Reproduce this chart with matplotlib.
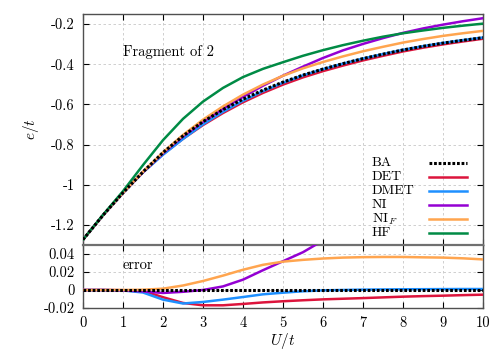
import numpy as np
import matplotlib
matplotlib.use('Agg')
import matplotlib.pyplot as plt
from matplotlib.ticker import FuncFormatter

plt.rcParams['font.family'] = ['cmr10', 'DejaVu Serif']
plt.rcParams['mathtext.fontset'] = 'cm'
plt.rcParams['axes.unicode_minus'] = False
plt.rcParams['axes.formatter.use_mathtext'] = True

# U/t grid
u = [0, 0.5, 1, 1.5, 2, 2.5, 3, 3.5, 4, 4.5, 5, 5.5, 6, 6.5, 7, 7.5, 8, 8.5, 9, 9.5, 10]

# Bethe ansatz energy per site
ba = [-1.2732, -1.152, -1.040, -0.936, -0.840, -0.757, -0.686, -0.626, -0.574, -0.529,
      -0.489, -0.454, -0.424, -0.397, -0.372, -0.350, -0.329, -0.311, -0.295, -0.281, -0.268]

# errors (method - BA)
err_det = [0, 0, -0.0002, -0.001, -0.008, -0.0144, -0.017, -0.017, -0.0155, -0.0138, -0.0125,
           -0.0114, -0.0104, -0.0097, -0.009, -0.0082, -0.0074, -0.0068, -0.0063, -0.0057, -0.0052]
err_dmet = [0, 0, -0.0005, -0.0028, -0.0107, -0.015, -0.0133, -0.0107, -0.0078, -0.0048, -0.003,
            -0.0014, -0.0004, 0.0, 0.0004, 0.0006, 0.0008, 0.0009, 0.001, 0.0011, 0.0011]
err_ni = [0, 0, -0.0005, -0.0015, -0.0033, -0.002, 0.0, 0.004, 0.0115, 0.022, 0.032,
          0.042, 0.055, 0.066, 0.073, 0.080, 0.085, 0.089, 0.092, 0.095, 0.097]
err_nif = [0, 0, 0, 0.0003, 0.0015, 0.005, 0.010, 0.016, 0.0225, 0.028, 0.0315,
           0.0335, 0.035, 0.036, 0.0365, 0.0367, 0.0367, 0.0363, 0.036, 0.0352, 0.034]

# Hartree-Fock energy (upper panel only)
hf = [-1.2732, -1.150, -1.032, -0.902, -0.778, -0.672, -0.586, -0.518, -0.464, -0.423,
      -0.390, -0.358, -0.330, -0.305, -0.283, -0.263, -0.246, -0.232, -0.219, -0.208, -0.198]

labels = ['BA', 'DET', 'DMET', 'NI', r'NI$_F$', 'HF']
colors = ['black', '#dc143c', '#1e90ff', '#9400d3', '#ffa54f', '#008b45']

u = np.array(u)
ba = np.array(ba)
errs = [np.array(err_det), np.array(err_dmet), np.array(err_ni), np.array(err_nif)]

fig = plt.figure(figsize=(5, 3.5), dpi=100)
ax1 = fig.add_axes([0.166, 0.30, 0.80, 0.66])
ax2 = fig.add_axes([0.166, 0.12, 0.80, 0.18], sharex=ax1)

lw = 1.8
dot = (0, (0.9, 0.6))
for i, e in enumerate(errs):
    ax1.plot(u, ba + e, color=colors[i + 1], lw=lw, zorder=3)
    ax2.plot(u, e, color=colors[i + 1], lw=lw, zorder=3)
ax1.plot(u, hf, color=colors[5], lw=lw, zorder=3)
ax1.plot(u, ba, color='black', lw=2.2, ls=dot, zorder=5)
ax2.plot(u, np.zeros(len(u)), color='black', lw=2.2, ls=dot, zorder=5)

ax1.set_xlim(0, 10)
ax1.set_ylim(-1.3, -0.15)
ax2.set_ylim(-0.02, 0.05)
ax1.set_xticks(range(11))
ax1.set_yticks([-1.2, -1.0, -0.8, -0.6, -0.4, -0.2])
ax2.set_yticks([-0.02, 0, 0.02, 0.04])

fmt = FuncFormatter(lambda v, p: '%g' % round(v, 3))
ax1.yaxis.set_major_formatter(fmt)
ax2.yaxis.set_major_formatter(fmt)
ax2.xaxis.set_major_formatter(fmt)

for ax in (ax1, ax2):
    ax.grid(True, ls=(0, (3, 3)), color='#c8c8c8', lw=0.6)
    ax.tick_params(direction='in', top=True, right=True, length=4, width=0.8,
                   labelsize=10.5, colors='black', pad=6)
    for s in ax.spines.values():
        s.set_color('#505050')
        s.set_linewidth(1.0)
ax1.tick_params(labelbottom=False)
ax2.spines['top'].set_linewidth(1.6)
ax2.spines['top'].set_color('#707070')

ax1.set_ylabel('$e/t$', fontsize=11)
ax1.yaxis.set_label_coords(-0.105, 0.5)
ax2.set_xlabel('$U/t$', fontsize=11)
ax2.xaxis.set_label_coords(0.5, -0.36)

ax1.text(0.1, 0.835, 'Fragment of 2', transform=ax1.transAxes, fontsize=10.5,
         va='center', ha='left')
ax2.text(0.1, 0.68, 'error', transform=ax2.transAxes, fontsize=10.5,
         va='center', ha='left')

# gnuplot-style key: text left, sample on the right
rows = [0.355, 0.294, 0.234, 0.173, 0.113, 0.052]
for lab, c, y in zip(labels, colors, rows):
    ax1.text(0.7225, y, lab, transform=ax1.transAxes, fontsize=10, va='center', ha='left')
    if lab == 'BA':
        ax1.plot([0.865, 0.96], [y, y], transform=ax1.transAxes, color=c, lw=2.2, ls=dot)
    else:
        ax1.plot([0.865, 0.96], [y, y], transform=ax1.transAxes, color=c, lw=lw)

fig.savefig('out.png', dpi=100)
